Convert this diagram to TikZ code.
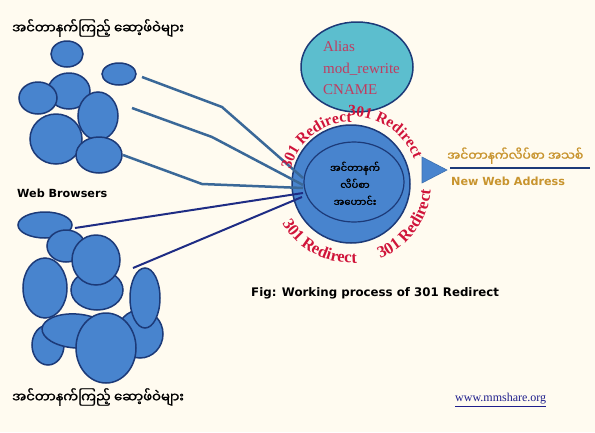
\documentclass[tikz,border=0pt]{standalone}
\usepackage{fontspec}
\setmainfont{Liberation Serif}
\newfontfamily\vfont{DejaVu Sans}
\newfontfamily\mmfont[Script=Myanmar,FakeBold=1.5]{Noto Sans Myanmar UI}
\usepackage{xcolor}
\usepackage{tikz}
\usetikzlibrary{shapes.geometric,positioning,calc,decorations.text}

\definecolor{paper}{RGB}{255,251,240}
\definecolor{blobfill}{RGB}{72,132,206}
\definecolor{blobline}{RGB}{28,58,120}
\definecolor{aliasfill}{RGB}{92,190,206}
\definecolor{linkup}{RGB}{58,104,152}
\definecolor{linkdn}{RGB}{30,44,132}
\definecolor{redir}{RGB}{208,20,58}
\definecolor{gold}{RGB}{200,148,46}
\definecolor{aliastext}{RGB}{192,60,96}
\definecolor{urlblue}{RGB}{30,30,140}

\newcommand{\redirfont}{\fontsize{15.5}{16}\selectfont\bfseries}
\newcommand{\redirlow}{\fontsize{16.5}{17}\selectfont\bfseries}

\begin{document}
\begin{tikzpicture}[x=1pt,y=1pt,
    blob/.style={ellipse,fill=blobfill,draw=blobline,line width=1.5,inner sep=0},
    link/.style={linkup,line width=2.5},
    lowlink/.style={linkdn,line width=2},
    redirect/.style={decorate,decoration={text along path,text color=redir,
        text align=center,text={|\redirfont|301 Redirect}}},
    redirectlow/.style={decorate,decoration={text along path,text color=redir,
        text align=center,text={|\redirlow|301 Redirect}}}]
        \fill[paper] (0,0) rectangle (595,-432);
        \useasboundingbox (0,0) rectangle (595,-432);

        % browsers, upper group
        \node[blob,minimum width=32,minimum height=26] (u1) at (67,-54) {};
        \node[blob,minimum width=34,minimum height=22] (u2) at (119,-74) {};
        \node[blob,minimum width=42,minimum height=36] (u3) at (69,-91) {};
        \node[blob,minimum width=38,minimum height=32] (u4) at (38,-98) {};
        \node[blob,minimum width=40,minimum height=48] (u5) at (98,-116) {};
        \node[blob,minimum width=52,minimum height=50] (u6) at (56,-139) {};
        \node[blob,minimum width=46,minimum height=36] (u7) at (99,-155) {};

        % browsers, lower group
        \node[blob,minimum width=54,minimum height=26] (l1) at (45,-225) {};
        \node[blob,minimum width=38,minimum height=32] (l2) at (66,-246) {};
        \node[blob,minimum width=44,minimum height=60] (l3) at (45,-288) {};
        \node[blob,minimum width=52,minimum height=40] (l4) at (97,-290) {};
        \node[blob,minimum width=48,minimum height=50] (l5) at (96,-260) {};
        \node[blob,minimum width=46,minimum height=48] (l6) at (140,-334) {};
        \node[blob,minimum width=32,minimum height=40] (l7) at (48,-345) {};
        \node[blob,minimum width=68,minimum height=34,rotate=-4] (l8) at (76,-331) {};
        \node[blob,minimum width=60,minimum height=70] (l9) at (106,-348) {};
        \node[blob,minimum width=30,minimum height=60] (l10) at (145,-298) {};

        % server side
        \node[ellipse,fill=aliasfill,draw=blobline,line width=1.5,
            minimum width=112,minimum height=90] (alias) at (357,-67) {};
        \node[anchor=west,align=left,inner sep=0,text=aliastext,
            font=\fontsize{15}{21.5}\selectfont] (aliastxt) at (323,-68)
            {Alias\\mod\_rewrite\\CNAME};
        \node[circle,fill=blobfill,draw=blobline,line width=1.5,
            minimum size=118] (hub) at (351,-184) {};

        % connectors
        \coordinate (w1) at (142,-77);   \coordinate (h1) at (303,-178);
        \coordinate (w2) at (132,-108);  \coordinate (h2) at (303,-185);
        \coordinate (w3) at (123,-155);  \coordinate (h3) at (303,-188);
        \coordinate (w4) at (75,-228);   \coordinate (h4) at (303,-193);
        \coordinate (w5) at (133,-268);  \coordinate (h5) at (302,-197);
        \draw[link] (w1) -- (222,-107) -- (h1);
        \draw[link] (w2) -- (212,-137) -- (h2);
        \draw[link] (w3) -- (202,-184) -- (h3);
        \draw[lowlink] (w4) -- (h4);
        \draw[lowlink] (w5) -- (h5);

        \node[ellipse,draw=blobline,line width=1.2,minimum width=100,
            minimum height=80] (old) at (354,-182) {};
        \node[align=center,font=\mmfont\fontsize{10}{17}\selectfont]
            (oldtxt) at (355,-184) {အင်တာနက်\\လိပ်စာ\\အဟောင်း};

        % curved labels
        \path[redirect] ($(hub)+(168:62)$) arc[start angle=168,end angle=88,radius=62];
        \path[redirect] ($(hub)+(94:68)$) arc[start angle=94,end angle=20,radius=68];
        \path[redirectlow] ($(hub)+(198:79)$) arc[start angle=198,end angle=286,radius=79];
        \path[redirectlow] ($(hub)+(285:80)$) arc[start angle=285,end angle=362,radius=80];

        % new address
        \coordinate (tip) at (447,-170);
        \filldraw[fill=blobfill,draw=blobfill!85!black,line width=0.6]
            (422,-157) -- (tip) -- (422,-183) -- cycle;
        \node[anchor=south west,inner sep=1,text=gold,
            font=\mmfont\fontsize{12.3}{14}\selectfont] (newmm) at (446,-165)
            {အင်တာနက်လိပ်စာ အသစ်};
        \coordinate (ul1) at (450,-168);
        \coordinate (ul2) at (590,-168);
        \draw[blobline,line width=1.2] (ul1) -- (ul2);
        \node[anchor=west,inner sep=1,text=gold,
            font=\vfont\bfseries\fontsize{11.2}{13}\selectfont] (neweng) at (450,-181)
            {New Web Address};

        % captions
        \node[anchor=west,inner sep=0,font=\mmfont\fontsize{13.2}{15}\selectfont]
            (toptxt) at (12,-28) {အင်တာနက်ကြည့် ဆော့ဖ်ဝဲများ};
        \node[anchor=west,inner sep=0,font=\vfont\bfseries\fontsize{11.2}{13}\selectfont]
            (web) at (17,-193) {Web Browsers};
        \node[anchor=west,inner sep=0,font=\mmfont\fontsize{13.2}{15}\selectfont]
            (bottxt) at (12,-397) {အင်တာနက်ကြည့် ဆော့ဖ်ဝဲများ};
        \node[anchor=west,inner sep=0,font=\vfont\bfseries\fontsize{11.8}{13}\selectfont]
            (fig) at (251,-293) {Fig: Working process of 301 Redirect};
        \node[anchor=west,inner sep=0,text=urlblue,font=\fontsize{12}{14}\selectfont]
            (url) at (455,-400) {\underline{www.mmshare.org}};
    \end{tikzpicture}
\end{document}
